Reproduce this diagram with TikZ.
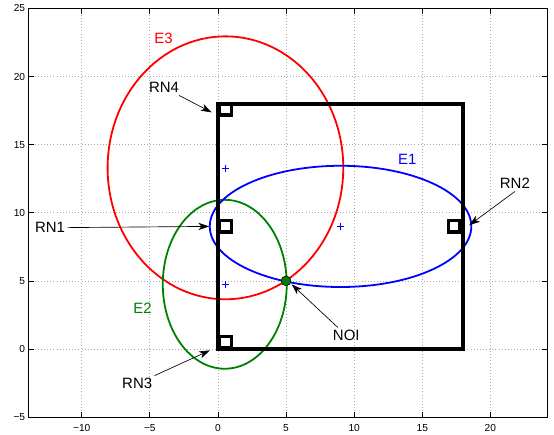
\documentclass[tikz,border=0pt]{standalone}
\usepackage{fontspec}
\setmainfont{Liberation Sans}
\usetikzlibrary{arrows.meta}
\definecolor{eonecolor}{HTML}{0000FF}
\definecolor{etwocolor}{HTML}{008000}
\definecolor{ethreecolor}{HTML}{FF0000}
\definecolor{gridcolor}{HTML}{A8A8A8}

\begin{document}
\begin{tikzpicture}[x=.4cm,y=.4cm,font=\fontsize{12.5}{14}\selectfont,
  pointer/.style={-{Stealth[length=9pt,width=6pt,inset=2.5pt]},line width=.55pt},
  ticklab/.style={font=\fontsize{8.5}{9}\selectfont,inner sep=1pt},
  annot/.style={inner sep=2pt},
  rnmark/.style={line width=2.7pt},
  ellipseline/.style={line width=1.5pt}]
  \useasboundingbox (-16,-6.27) rectangle (24.67,25.62);
  % grid, ticks and tick labels
  \foreach \gx/\lab in {-10/−10,-5/−5,0/0,5/5,10/10,15/15,20/20}{
    \draw[gridcolor,dash pattern=on .6pt off 2pt,line width=.6pt] (\gx,-5)--(\gx,25);
    \draw[line width=.6pt] (\gx,-5)--(\gx,-4.62) (\gx,25)--(\gx,24.62);
    \node[ticklab,anchor=north] (xt\gx) at (\gx,-5.45) {\lab};
  }
  \foreach \gy/\lab in {-5/−5,0/0,5/5,10/10,15/15,20/20,25/25}{
    \draw[gridcolor,dash pattern=on .6pt off 2pt,line width=.6pt] (-13.9,\gy)--(24.2,\gy);
    \draw[line width=.6pt] (-13.9,\gy)--(-13.52,\gy) (24.2,\gy)--(23.82,\gy);
    \node[ticklab,anchor=east] (yt\gy) at (-14.05,\gy) {\lab};
  }
  \draw[line width=.7pt] (-13.9,-5) rectangle (24.2,25);
  % ellipses
  \draw[ethreecolor,ellipseline] (0.55,13.3) ellipse [x radius=8.65,y radius=9.65];
  \draw[etwocolor,ellipseline] (0.5,4.75) ellipse [x radius=4.55,y radius=6.2];
  \draw[eonecolor,ellipseline] (9,9) ellipse [x radius=9.6,y radius=4.45];
  % region and reference nodes
  \draw[line width=3.2pt] (0,0) rectangle (18,18);
  \foreach \rx/\ry in {0.55/0.5,0.55/9,17.35/9,0.55/17.6}
    \draw[rnmark] (\rx-.42,\ry-.42) rectangle (\rx+.42,\ry+.42);
  % centres
  \foreach \cx/\cy in {0.55/13.25,0.55/4.75,9/9}
    \draw[eonecolor,line width=1.2pt] (\cx-.25,\cy)--(\cx+.25,\cy) (\cx,\cy-.25)--(\cx,\cy+.25);
  \fill[etwocolor,draw=black,line width=.5pt] (5,5) circle (.36);
  % labels
  \node[annot,text=ethreecolor] (ethreelab) at (-4.0,22.8) {E3};
  \node[annot,text=etwocolor] (etwolab) at (-5.54,3.0) {E2};
  \node[annot,text=eonecolor] (eonelab) at (13.9,13.95) {E1};
  \node[annot] (rnonelab) at (-12.33,8.9) {RN1};
  \node[annot] (rntwolab) at (21.8,12.14) {RN2};
  \node[annot] (rnthreelab) at (-5.93,-2.54) {RN3};
  \node[annot] (rnfourlab) at (-3.96,19.19) {RN4};
  \node[annot] (noilab) at (9.42,1.0) {NOI};
  \coordinate (rnonetip) at (-0.64,9.0);
  \coordinate (rntwotip) at (18.45,9.09);
  \coordinate (rnthreetip) at (-0.59,-0.1);
  \coordinate (rnfourtip) at (-0.46,17.37);
  \coordinate (noitip) at (5.41,4.75);
  \draw[pointer] (rnonelab) -- (rnonetip);
  \draw[pointer] (rntwolab.south) -- (rntwotip);
  \draw[pointer] (rnthreelab) -- (rnthreetip);
  \draw[pointer] (rnfourlab) -- (rnfourtip);
  \draw[pointer] (noilab) -- (noitip);
\end{tikzpicture}
\end{document}
